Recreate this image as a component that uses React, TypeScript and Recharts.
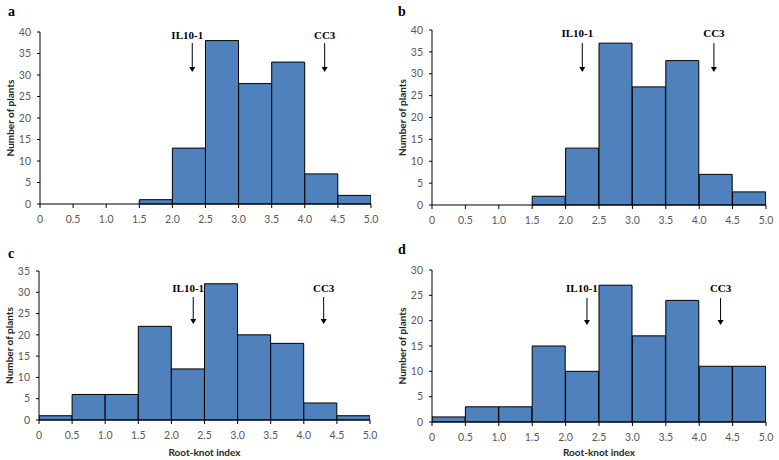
import React from 'react'
import { BarChart, Bar, XAxis, YAxis, ReferenceLine } from 'recharts'

// bin edges of root-knot index (bin width 0.5)
const edgeTicks = [0, 0.5, 1, 1.5, 2, 2.5, 3, 3.5, 4, 4.5, 5]

const countsA = [0, 0, 0, 1, 13, 38, 28, 33, 7, 2]
const countsB = [0, 0, 0, 2, 13, 37, 27, 33, 7, 3]
const countsC = [1, 6, 6, 22, 12, 32, 20, 18, 4, 1]
const countsD = [1, 3, 3, 15, 10, 27, 17, 24, 11, 11]

const ticks40 = [0, 5, 10, 15, 20, 25, 30, 35, 40]
const ticks35 = [0, 5, 10, 15, 20, 25, 30, 35]
const ticks30 = [0, 5, 10, 15, 20, 25, 30]

// arrow positions on the root-knot index scale
const markersA = [{ name: 'IL10-1', x: 2.3 }, { name: 'CC3', x: 4.3 }]
const markersB = [{ name: 'IL10-1', x: 2.25 }, { name: 'CC3', x: 4.22 }]
const markersC = [{ name: 'IL10-1', x: 2.33 }, { name: 'CC3', x: 4.3 }]
const markersD = [{ name: 'IL10-1', x: 2.32 }, { name: 'CC3', x: 4.32 }]

const BAR_FILL = '#4f81bd'
const TICK_COLOR = '#595959'
const SANS = 'Lato, "Liberation Sans", sans-serif'
const SERIF = '"Liberation Serif", "DejaVu Serif", serif'

interface PanelProps {
  letter: string
  counts: number[]
  yTicks: number[]
  markers: { name: string; x: number }[]
  left: number
  top: number
  width: number
  height: number
  yAxisWidth: number
  margin: { top: number; right: number; bottom: number; left: number }
  xAxisHeight: number
  showXTitle: boolean
  letterTop: number
  // arrow layout, px below plot top
  textDy: number
  arrowTop: number
  arrowTip: number
}

const fmtX = (v: number) => (v === 0 ? '0' : v.toFixed(1))

const Panel: React.FC<PanelProps> = (p) => {
  // each bar sits at the middle of its bin
  const data = p.counts.map((count, i) => ({ mid: (edgeTicks[i] + edgeTicks[i + 1]) / 2, count }))
  const yMax = p.yTicks[p.yTicks.length - 1]

  const arrowShape = (name: string) => (props: any) => {
    const x = props.x1
    const t = Math.min(props.y1, props.y2)
    const dx = name === 'CC3' ? 0 : -5
    return (
      <g>
        <text
          x={x + dx}
          y={t + p.textDy}
          textAnchor="middle"
          fontFamily={SERIF}
          fontWeight="bold"
          fontSize={11}
          fill="#000"
        >
          {name}
        </text>
        <line x1={x} x2={x} y1={t + p.arrowTop} y2={t + p.arrowTip - 4} stroke="#000" strokeWidth={1} />
        <path d={`M${x - 3},${t + p.arrowTip - 5} L${x + 3},${t + p.arrowTip - 5} L${x},${t + p.arrowTip} Z`} fill="#000" />
      </g>
    )
  }

  return (
    <div style={{ position: 'absolute', left: p.left, top: p.top, width: p.width, height: p.height }}>
      <div
        style={{
          position: 'absolute',
          left: 8,
          top: p.letterTop,
          fontFamily: SERIF,
          fontWeight: 'bold',
          fontSize: 14,
          lineHeight: '14px'
        }}
      >
        {p.letter}
      </div>
      <BarChart
        width={p.width}
        height={p.height}
        data={data}
        margin={p.margin}
        barCategoryGap={0}
        barGap={0}
      >
        <XAxis
          dataKey="mid"
          type="number"
          domain={[0, 5]}
          ticks={edgeTicks}
          interval={0}
          allowDataOverflow
          tickFormatter={fmtX}
          height={p.xAxisHeight}
          stroke="#000"
          tickSize={4}
          tickMargin={8}
          tick={{ fill: TICK_COLOR, fontSize: 10.5, fontFamily: SANS }}
          label={
            p.showXTitle
              ? {
                  value: 'Root-knot index',
                  position: 'insideBottom',
                  offset: 4,
                  style: { fill: '#262626', fontSize: 10, fontWeight: 'bold', fontFamily: SANS }
                }
              : undefined
          }
        />
        <YAxis
          type="number"
          domain={[0, yMax]}
          ticks={p.yTicks}
          interval={0}
          width={p.yAxisWidth}
          stroke="#000"
          tickSize={3}
          tickMargin={6}
          tick={{ fill: TICK_COLOR, fontSize: 10.5, fontFamily: SANS }}
          label={{
            value: 'Number of plants',
            content: (lp: any) => {
              const vb = lp.viewBox
              const cx = vb.x + vb.width - 30
              const cy = vb.y + vb.height / 2
              return (
                <text
                  x={cx}
                  y={cy}
                  transform={`rotate(-90 ${cx} ${cy})`}
                  textAnchor="middle"
                  dominantBaseline="central"
                  fontFamily={SANS}
                  fontWeight="bold"
                  fontSize={10}
                  fill="#262626"
                >
                  Number of plants
                </text>
              )
            }
          }}
        />
        <Bar
          dataKey="count"
          fill={BAR_FILL}
          stroke="#000"
          strokeWidth={1}
          isAnimationActive={false}
        />
        {p.markers.map((m) => (
          <ReferenceLine
            key={m.name}
            x={m.x}
            ifOverflow="visible"
            shape={arrowShape(m.name)}
          />
        ))}
      </BarChart>
    </div>
  )
}

export default function App() {
  return (
    <div style={{ position: 'absolute', left: 0, top: 0, width: 779, height: 460, background: '#fff' }}>
      <Panel
        letter="a"
        counts={countsA}
        yTicks={ticks40}
        markers={markersA}
        left={0}
        top={0}
        width={385}
        height={225}
        yAxisWidth={40}
        margin={{ top: 32, right: 14, bottom: 1, left: 0 }}
        xAxisHeight={20}
        showXTitle={false}
        letterTop={5}
        textDy={7}
        arrowTop={11}
        arrowTip={40}
      />
      <Panel
        letter="b"
        counts={countsB}
        yTicks={ticks40}
        markers={markersB}
        left={390}
        top={0}
        width={389}
        height={225}
        yAxisWidth={42}
        margin={{ top: 30, right: 13, bottom: 0, left: 0 }}
        xAxisHeight={20}
        showXTitle={false}
        letterTop={5}
        textDy={7}
        arrowTop={13}
        arrowTip={42}
      />
      <Panel
        letter="c"
        counts={countsC}
        yTicks={ticks35}
        markers={markersC}
        left={0}
        top={225}
        width={385}
        height={235}
        yAxisWidth={39}
        margin={{ top: 46, right: 15, bottom: 0, left: 0 }}
        xAxisHeight={40}
        showXTitle={true}
        letterTop={22}
        textDy={21}
        arrowTop={26}
        arrowTip={53}
      />
      <Panel
        letter="d"
        counts={countsD}
        yTicks={ticks30}
        markers={markersD}
        left={390}
        top={225}
        width={389}
        height={235}
        yAxisWidth={42}
        margin={{ top: 45, right: 13, bottom: 0, left: 0 }}
        xAxisHeight={38}
        showXTitle={true}
        letterTop={18}
        textDy={22}
        arrowTop={28}
        arrowTip={55}
      />
    </div>
  )
}
